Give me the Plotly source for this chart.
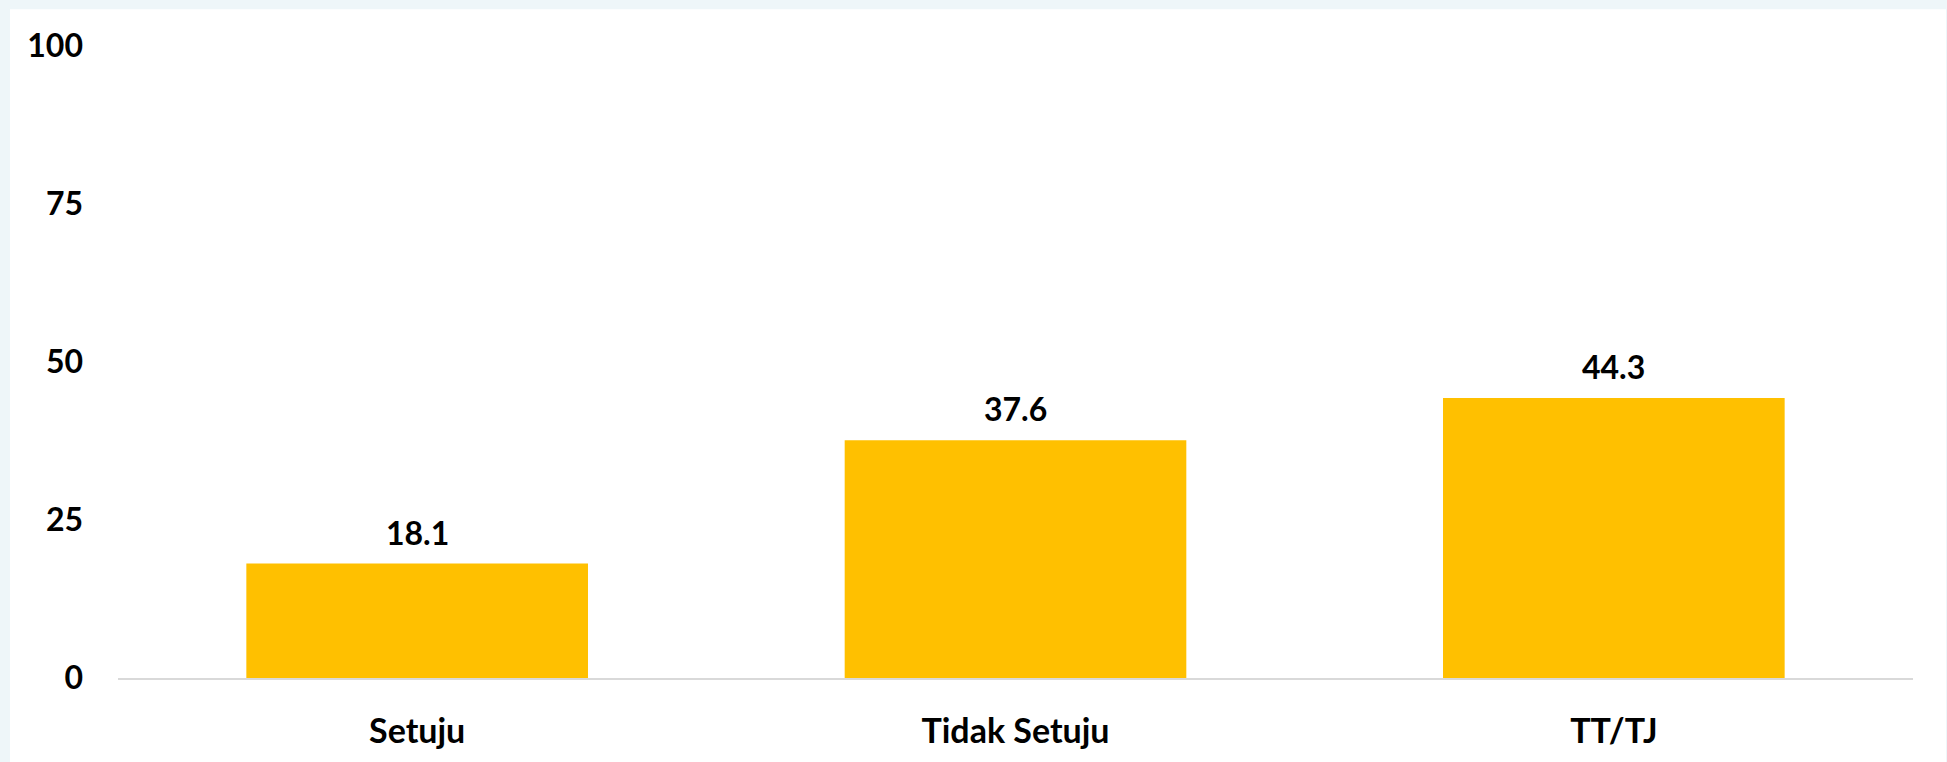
import plotly.graph_objects as go

categories = ["Setuju", "Tidak Setuju", "TT/TJ"]
values = [18.1, 37.6, 44.3]
y_ticks = [0, 25, 50, 75, 100]

W, H = 1947, 762
L, R, T, B = 118, 34, 46, 80
pw, ph = W - L - R, H - T - B

font = "Lato, 'Open Sans', sans-serif"

fig = go.Figure()
fig.add_trace(go.Bar(
    x=categories, y=values,
    marker=dict(color="#FFC000", line=dict(width=0)),
    width=0.571,
    hoverinfo="x+y",
))

for c, v in zip(categories, values):
    fig.add_annotation(x=c, y=v, text=f"<b>{v:.1f}</b>", showarrow=False,
                       yanchor="bottom", yshift=10,
                       font=dict(family=font, size=32, color="#000000"))

# white card over light-blue page background
fig.add_shape(type="rect", xref="paper", yref="paper", layer="below",
              x0=(10 - L) / pw, x1=(1946 - L) / pw,
              y0=(H - B - 775) / ph, y1=(H - B - 9) / ph,
              fillcolor="#FFFFFF", line=dict(width=0))

fig.update_layout(
    width=W, height=H,
    margin=dict(l=L, r=R, t=T, b=B, pad=0),
    paper_bgcolor="#EEF6F9",
    plot_bgcolor="rgba(0,0,0,0)",
    showlegend=False,
    font=dict(family=font, color="#000000"),
    bargap=0.429,
)
fig.update_xaxes(
    showgrid=False, zeroline=False,
    showline=True, linecolor="#D9D9D9", linewidth=2,
    ticks="", tickfont=dict(family=font, size=34, color="#000000", weight="bold"),
    ticklabelstandoff=22,
)
fig.update_yaxes(
    range=[0, 100], tickvals=y_ticks, ticktext=[f"<b>{t}</b>" for t in y_ticks],
    showgrid=False, zeroline=False, showline=False, ticks="",
    tickfont=dict(family=font, size=32, color="#000000"),
    ticklabelstandoff=34,
)

fig.write_html(
    "out.html",
    config={"displayModeBar": False},
    post_script="document.body.style.margin='0';document.body.style.overflow='hidden';",
)
